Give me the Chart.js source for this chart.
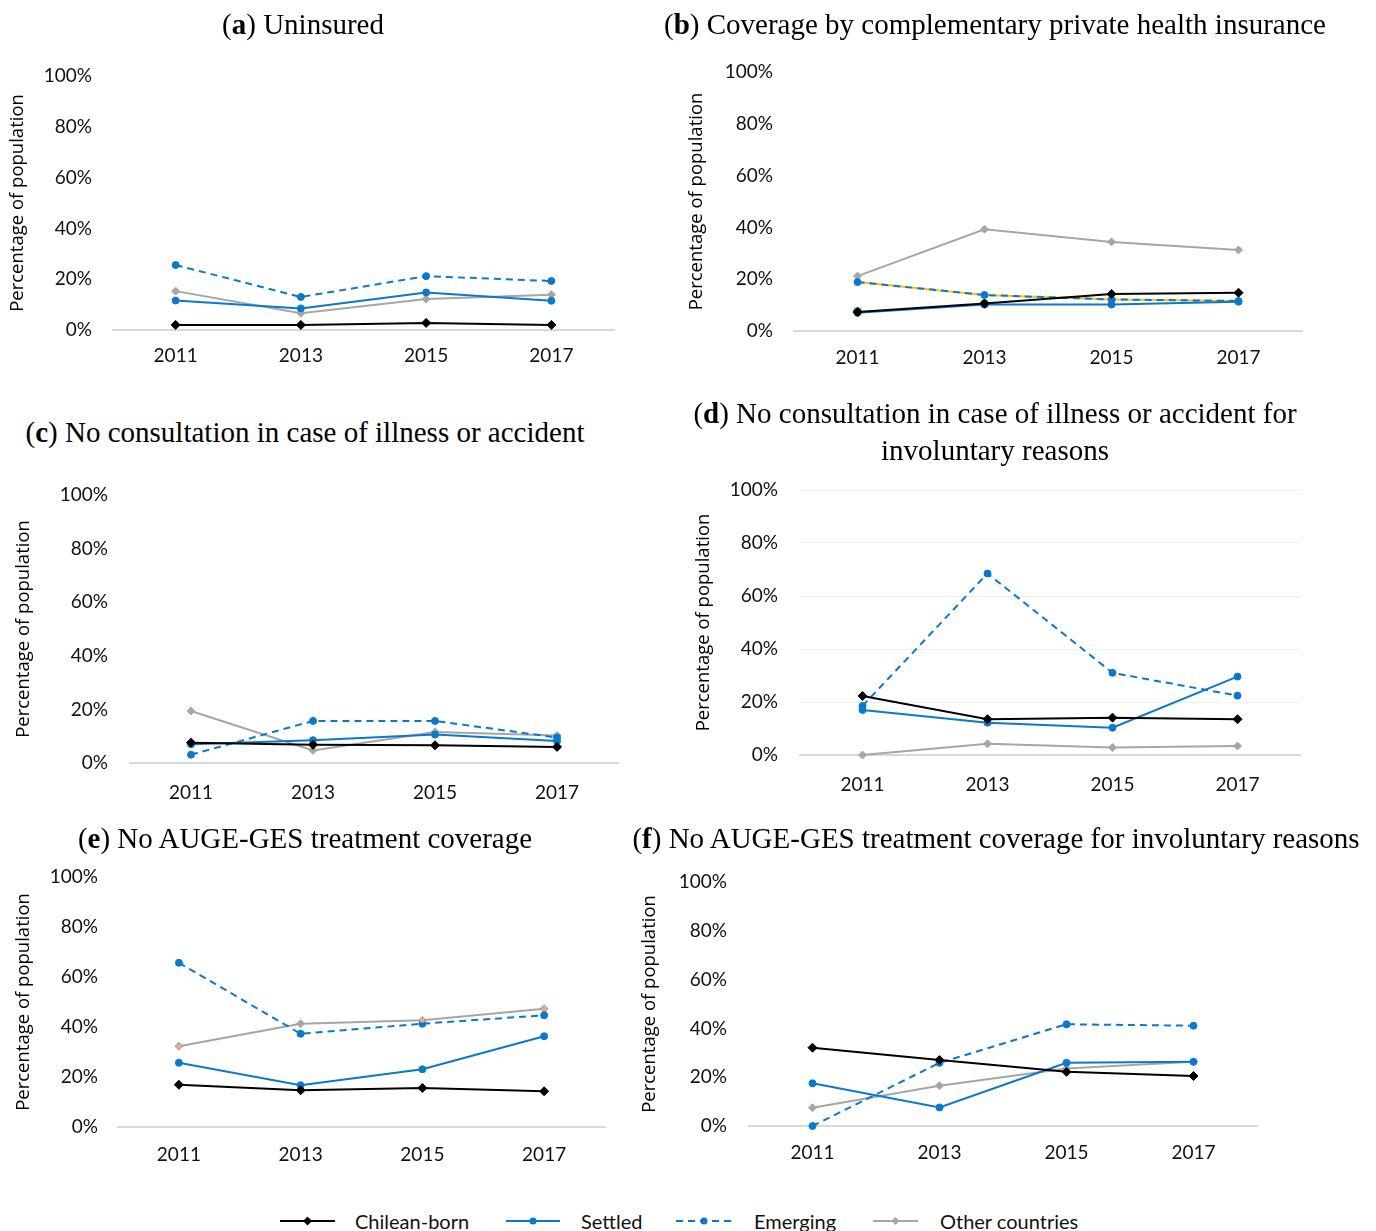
<!DOCTYPE html>
<html>
<head>
<meta charset="utf-8">
<script src="https://cdn.jsdelivr.net/npm/chart.js@4.4.1/dist/chart.umd.min.js"></script>
<style>
  html, body { margin: 0; padding: 0; background: #fff; }
  body { width: 1376px; height: 1231px; position: relative; overflow: hidden; }
  canvas { position: absolute; }
  .ptitle {
    position: absolute; transform: translateX(-50%);
    font-family: "Liberation Serif", "DejaVu Serif", serif; font-size: 29px;
    line-height: 37px; color: #000; white-space: nowrap; text-align: center;
  }
  .litem {
    position: absolute; top: 1208px; height: 26px;
    display: flex; align-items: center;
    font-family: Lato, "Open Sans", sans-serif; font-size: 20px; color: #111;
    white-space: nowrap;
  }
  .lsample { position: absolute; top: 1214px; }
</style>
</head>
<body>
<script>
// Survey years and series
const years = ['2011', '2013', '2015', '2017'];
const seriesNames = ['Chilean-born', 'Settled', 'Emerging', 'Other countries'];
const yTickValues = [0, 20, 40, 60, 80, 100];

// (a) Uninsured
const uninsuredChilean  = [2.0, 2.0, 2.8, 2.0];
const uninsuredSettled  = [11.6, 8.5, 14.8, 11.5];
const uninsuredEmerging = [25.6, 13.0, 21.2, 19.3];
const uninsuredOther    = [15.3, 6.6, 12.2, 13.9];

// (b) Coverage by complementary private health insurance
const privateChilean  = [7.3, 10.6, 14.3, 14.8];
const privateSettled  = [7.0, 10.2, 10.2, 11.3];
const privateEmerging = [18.9, 13.9, 12.2, 11.6];
const privateOther    = [21.2, 39.3, 34.4, 31.3];
const privateTraceLine = [18.9, 13.9, 12.2, 11.6];
const privateTraceDots = [7.5, 10.5, null, null];

// (c) No consultation in case of illness or accident
const noConsultChilean  = [7.6, 6.8, 6.6, 6.0];
const noConsultSettled  = [7.0, 8.5, 10.6, 8.2];
const noConsultEmerging = [3.1, 15.7, 15.7, 9.5];
const noConsultOther    = [19.4, 4.7, 11.6, 10.3];

// (d) No consultation for involuntary reasons
const noConsultInvChilean  = [22.3, 13.5, 14.1, 13.5];
const noConsultInvSettled  = [17.0, 12.2, 10.3, 29.6];
const noConsultInvEmerging = [18.5, 68.5, 31.0, 22.4];
const noConsultInvOther    = [0.0, 4.2, 2.8, 3.4];

// (e) No AUGE-GES treatment coverage
const noAugeChilean  = [16.9, 14.7, 15.6, 14.3];
const noAugeSettled  = [25.7, 16.7, 23.1, 36.3];
const noAugeEmerging = [65.7, 37.3, 41.3, 44.7];
const noAugeOther    = [32.3, 41.3, 42.7, 47.3];
const noAugeTraceDots = [32.3, null, 42.7, 47.3];

// (f) No AUGE-GES treatment coverage for involuntary reasons
const noAugeInvChilean  = [32.1, 27.0, 22.2, 20.5];
const noAugeInvSettled  = [17.5, 7.6, 25.9, 26.3];
const noAugeInvEmerging = [0.0, 25.9, 41.7, 41.1];
const noAugeInvOther    = [7.5, 16.5, 23.6, 26.3];

const BLACK = '#000000';
const BLUE = '#0a79cc';
const GRAY = '#a6a6a6';
const AXIS_GRAY = '#d9d9d9';
const DASH = [7, 5];

const seriesStyles = [
  { color: BLACK, pointStyle: 'rectRot', radius: 4.5, dash: [] },
  { color: BLUE,  pointStyle: 'circle',  radius: 3.5, dash: [] },
  { color: BLUE,  pointStyle: 'circle',  radius: 3.5, dash: DASH },
  { color: GRAY,  pointStyle: 'rectRot', radius: 4,   dash: [] }
];

const TICK_FONT = { family: 'Lato, "Open Sans", sans-serif', size: 19 };
const YTITLE_FONT = { family: '"Open Sans", sans-serif', size: 18.5 };

function lineDataset(label, values, style) {
  return {
    label: label,
    data: values,
    borderColor: style.color,
    backgroundColor: style.color,
    borderWidth: 2,
    borderDash: style.dash,
    pointStyle: style.pointStyle,
    pointRadius: style.radius,
    pointBorderWidth: 1,
    pointBorderColor: style.color,
    pointBackgroundColor: style.color,
    tension: 0,
    clip: false
  };
}

function panel(cfg) {
  const titleHalf = YTITLE_FONT.size * 1.2 / 2;
  const tickHalf = TICK_FONT.size * 1.2 / 2;
  const yTickPad = cfg.plotL - cfg.tickRight;
  // the y scale reserves half a label plus its tick padding above the plot
  const padTop = Math.ceil(tickHalf + yTickPad) + 2;
  const padRight = 10;
  const left = Math.round(cfg.yTitleX - titleHalf);
  const top = cfg.y100 - padTop;
  const right = cfg.plotR + padRight;
  const bottom = cfg.xLabelY + 16;

  const canvas = document.createElement('canvas');
  canvas.width = right - left;
  canvas.height = bottom - top;
  canvas.style.left = left + 'px';
  canvas.style.top = top + 'px';
  document.body.appendChild(canvas);

  const datasets = cfg.series.map((vals, i) => lineDataset(seriesNames[i], vals, seriesStyles[i]));
  (cfg.extras || []).forEach(e => datasets.push(e));

  new Chart(canvas, {
    type: 'line',
    data: { labels: years, datasets: datasets },
    options: {
      responsive: false,
      animation: false,
      devicePixelRatio: 1,
      layout: { padding: { top: padTop, right: padRight, left: 0, bottom: 0 } },
      plugins: { legend: { display: false }, tooltip: { enabled: false }, title: { display: false } },
      scales: {
        x: {
          type: 'category',
          offset: true,
          grid: { display: false, drawTicks: false },
          border: { display: true, color: AXIS_GRAY, width: 2 },
          ticks: {
            font: TICK_FONT, color: '#111', maxRotation: 0, autoSkip: false,
            padding: cfg.xLabelY - cfg.y0 - tickHalf
          },
          afterFit: s => { s.height = bottom - cfg.y0; }
        },
        y: {
          min: 0, max: 100,
          grid: {
            display: !!cfg.grid, color: '#efefef', lineWidth: 1,
            drawTicks: false
          },
          border: { display: false },
          ticks: {
            font: TICK_FONT, color: '#111',
            padding: yTickPad,
            callback: v => v + '%'
          },
          afterBuildTicks: s => { s.ticks = yTickValues.map(v => ({ value: v })); },
          title: {
            display: true, text: 'Percentage of population',
            font: YTITLE_FONT, color: '#000', padding: { top: 0, bottom: 0 }
          },
          afterFit: s => { s.width = cfg.plotL - left; }
        }
      }
    }
  });

  const t = document.createElement('div');
  t.className = 'ptitle';
  t.innerHTML = cfg.title;
  t.style.left = cfg.titleX + 'px';
  t.style.top = (cfg.titleY - 18.5) + 'px';
  document.body.appendChild(t);
}

panel({
  title: '(<b>a</b>) Uninsured', titleX: 303, titleY: 24,
  plotL: 113, plotR: 614, y100: 76, y0: 330, tickRight: 92, yTitleX: 18, xLabelY: 356,
  series: [uninsuredChilean, uninsuredSettled, uninsuredEmerging, uninsuredOther]
});

panel({
  title: '(<b>b</b>) Coverage by complementary private health insurance', titleX: 995, titleY: 24,
  plotL: 794, plotR: 1302, y100: 72, y0: 331, tickRight: 773, yTitleX: 697, xLabelY: 358,
  series: [privateChilean, privateSettled, privateEmerging, privateOther],
  extras: [
    { label: 'trace', data: privateTraceLine, borderColor: '#ffc000', borderWidth: 2,
      pointRadius: 0, tension: 0, order: 1, clip: false },
    { label: 'trace points', data: privateTraceDots, showLine: false, pointStyle: 'circle',
      pointRadius: 4, pointBackgroundColor: '#3a9a3a', pointBorderColor: '#3a9a3a',
      order: 1, clip: false }
  ]
});

panel({
  title: '(<b>c</b>) No consultation in case of illness or accident', titleX: 305, titleY: 432,
  plotL: 130, plotR: 618, y100: 495, y0: 763, tickRight: 108, yTitleX: 24, xLabelY: 793,
  series: [noConsultChilean, noConsultSettled, noConsultEmerging, noConsultOther]
});

panel({
  title: '(<b>d</b>) No consultation in case of illness or accident for<br>involuntary reasons',
  titleX: 995, titleY: 413,
  plotL: 800, plotR: 1300, y100: 490, y0: 755, tickRight: 778, yTitleX: 704, xLabelY: 785,
  grid: true,
  series: [noConsultInvChilean, noConsultInvSettled, noConsultInvEmerging, noConsultInvOther]
});

panel({
  title: '(<b>e</b>) No AUGE-GES treatment coverage', titleX: 305, titleY: 838,
  plotL: 118, plotR: 605, y100: 877, y0: 1127, tickRight: 98, yTitleX: 24, xLabelY: 1155,
  series: [noAugeChilean, noAugeSettled, noAugeEmerging, noAugeOther],
  extras: [
    { label: 'trace points', data: noAugeTraceDots, showLine: false, pointStyle: 'rect',
      pointRadius: 2.5, pointBackgroundColor: '#f4a582', pointBorderColor: '#f4a582',
      order: -1, clip: false }
  ]
});

panel({
  title: '(<b>f</b>) No AUGE-GES treatment coverage for involuntary reasons', titleX: 996, titleY: 838,
  plotL: 749, plotR: 1257, y100: 882, y0: 1126, tickRight: 727, yTitleX: 650, xLabelY: 1153,
  series: [noAugeInvChilean, noAugeInvSettled, noAugeInvEmerging, noAugeInvOther]
});

// Legend: line sample with centred marker, then series name
const legendSampleX = [280, 506, 676, 873];
const legendSampleW = [55, 54, 56, 45];
const legendTextX = [355, 581, 754, 940];
seriesNames.forEach((name, i) => {
  const st = seriesStyles[i];
  const w = legendSampleW[i];
  const cx = w / 2, cy = 7;
  const dash = st.dash.length ? ' stroke-dasharray="' + st.dash.join(' ') + '"' : '';
  let marker;
  if (st.pointStyle === 'rectRot') {
    const r = st.radius;
    marker = '<path d="M' + cx + ' ' + (cy - r) + ' L' + (cx + r) + ' ' + cy + ' L' + cx + ' ' + (cy + r) +
             ' L' + (cx - r) + ' ' + cy + ' Z" fill="' + st.color + '"/>';
  } else {
    marker = '<circle cx="' + cx + '" cy="' + cy + '" r="' + st.radius + '" fill="' + st.color + '"/>';
  }
  const svg = document.createElement('div');
  svg.className = 'lsample';
  svg.style.left = legendSampleX[i] + 'px';
  svg.innerHTML = '<svg width="' + w + '" height="14" style="display:block"><line x1="0" y1="' + cy + '" x2="' + w + '" y2="' + cy +
    '" stroke="' + st.color + '" stroke-width="2"' + dash + '/>' + marker + '</svg>';
  document.body.appendChild(svg);
  const txt = document.createElement('div');
  txt.className = 'litem';
  txt.style.left = legendTextX[i] + 'px';
  txt.textContent = name;
  document.body.appendChild(txt);
});
</script>
</body>
</html>
